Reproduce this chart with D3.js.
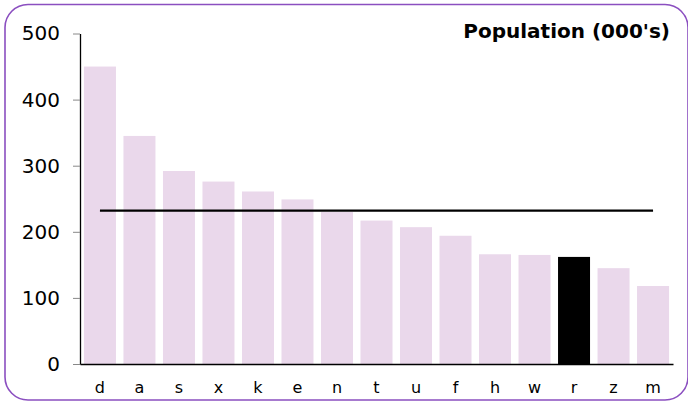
<!DOCTYPE html>
<html><head><meta charset="utf-8">
<script src="https://cdn.jsdelivr.net/npm/d3@7"></script>
<style>html,body{margin:0;padding:0;background:#fff;}svg{display:block;}</style>
</head><body><svg id="c" width="688" height="403"></svg>
<script>
const categories = ["d","a","s","x","k","e","n","t","u","f","h","w","r","z","m"];
const values = [450,345,292,276,261,249,230,217,207,194,166,165,162,145,118];
const highlight = ["r"];
const averageValue = 232;
const yTicks = [0,100,200,300,400,500];
const title = "Population (000's)";

const svg = d3.select("#c");
svg.append("rect").attr("x",5).attr("y",4.5).attr("width",683).attr("height",395.5)
  .attr("rx",23).attr("ry",23).attr("fill","#fff").attr("stroke","#8b4fc0").attr("stroke-width",1.6);

const x = d3.scaleBand().domain(categories).range([80,673]).paddingInner(0.19).paddingOuter(0.1);
const y = d3.scaleLinear().domain([0,500]).range([364,33.5]);

svg.append("g").selectAll("rect").data(categories).join("rect")
  .attr("x",d=>x(d)).attr("width",x.bandwidth())
  .attr("y",(d,i)=>y(values[i])).attr("height",(d,i)=>y(0)-y(values[i]))
  .attr("fill",d=>highlight.includes(d)?"#000":"#ead8eb");

const ya = svg.append("g").attr("transform","translate(80,0)")
  .call(d3.axisLeft(y).tickValues(yTicks).tickSize(7).tickPadding(13).tickSizeOuter(0));
ya.select(".domain").attr("stroke","#000").attr("stroke-width",1.3);
ya.selectAll(".tick line").attr("stroke","#888");
ya.selectAll("text").attr("font-family","'DejaVu Sans', Verdana, sans-serif").attr("font-size",20).attr("fill","#000");

const xa = svg.append("g").attr("transform","translate(0,364)")
  .call(d3.axisBottom(x).tickSize(0).tickPadding(18).tickSizeOuter(0));
xa.select(".domain").attr("stroke","#000").attr("stroke-width",1.3);
xa.selectAll("text").attr("font-family","'DejaVu Sans', Verdana, sans-serif").attr("font-size",16).attr("fill","#000");

svg.append("line")
  .attr("x1",x(categories[0])+x.bandwidth()/2)
  .attr("x2",x(categories[categories.length-1])+x.bandwidth()/2)
  .attr("y1",y(averageValue)).attr("y2",y(averageValue))
  .attr("stroke","#000").attr("stroke-width",2.2);

svg.append("text").attr("x",670).attr("y",38).attr("text-anchor","end")
  .attr("font-family","'DejaVu Sans', Verdana, sans-serif").attr("font-weight","bold").attr("font-size",20)
  .text(title);
</script></body></html>
